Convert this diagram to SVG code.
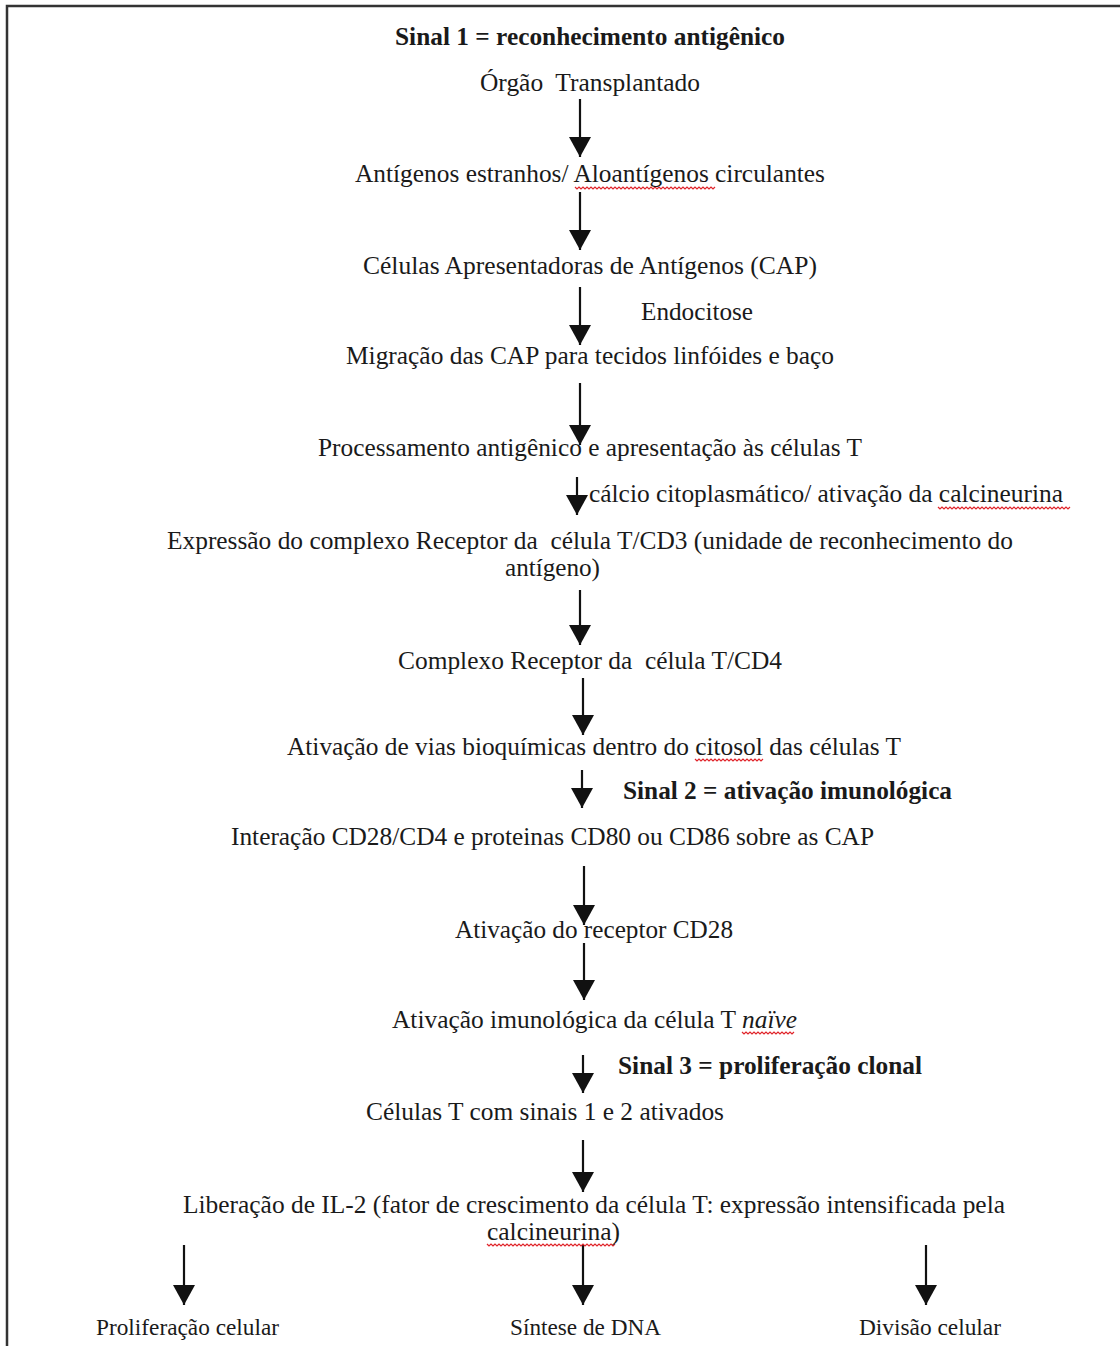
<svg xmlns="http://www.w3.org/2000/svg" width="1120" height="1346" viewBox="0 0 1120 1346">
<style>
.t{font-family:"Liberation Serif","Times New Roman",serif;font-size:26px;fill:#1a1a1a}
.b{font-weight:bold}
.i{font-style:italic}
.s{font-size:23px}
.ar{stroke:#111;stroke-width:2.2;fill:none}
.wv{stroke:#e0242a;stroke-width:1.2;fill:none}
</style>
<defs>
<marker id="ah" markerUnits="userSpaceOnUse" markerWidth="22" markerHeight="22" refX="20" refY="11" orient="auto">
<path d="M0,0 L20,11 L0,22 Z" fill="#111"/>
</marker>
</defs>
<rect x="0" y="0" width="1120" height="1346" fill="#fff"/>
<path d="M7,1346 V6 H1120" stroke="#333" stroke-width="2.5" fill="none"/>
<g id="connectors">
<line class="ar" x1="580" y1="99" x2="580" y2="157" marker-end="url(#ah)"/>
<line class="ar" x1="580" y1="192" x2="580" y2="250" marker-end="url(#ah)"/>
<line class="ar" x1="580" y1="287" x2="580" y2="345" marker-end="url(#ah)"/>
<line class="ar" x1="580" y1="383" x2="580" y2="445" marker-end="url(#ah)"/>
<line class="ar" x1="577" y1="477" x2="577" y2="515" marker-end="url(#ah)"/>
<line class="ar" x1="580" y1="590" x2="580" y2="645" marker-end="url(#ah)"/>
<line class="ar" x1="583" y1="678" x2="583" y2="735" marker-end="url(#ah)"/>
<line class="ar" x1="582" y1="770" x2="582" y2="808" marker-end="url(#ah)"/>
<line class="ar" x1="584" y1="866" x2="584" y2="925" marker-end="url(#ah)"/>
<line class="ar" x1="584" y1="943" x2="584" y2="1000" marker-end="url(#ah)"/>
<line class="ar" x1="583" y1="1055" x2="583" y2="1093" marker-end="url(#ah)"/>
<line class="ar" x1="583" y1="1140" x2="583" y2="1192" marker-end="url(#ah)"/>
<line class="ar" x1="184" y1="1245" x2="184" y2="1305" marker-end="url(#ah)"/>
<line class="ar" x1="583" y1="1245" x2="583" y2="1305" marker-end="url(#ah)"/>
<line class="ar" x1="926" y1="1245" x2="926" y2="1305" marker-end="url(#ah)"/>
</g>
<g id="wavy">
<path class="wv" d="M575,187 l2,2 l2,-2 l2,2 l2,-2 l2,2 l2,-2 l2,2 l2,-2 l2,2 l2,-2 l2,2 l2,-2 l2,2 l2,-2 l2,2 l2,-2 l2,2 l2,-2 l2,2 l2,-2 l2,2 l2,-2 l2,2 l2,-2 l2,2 l2,-2 l2,2 l2,-2 l2,2 l2,-2 l2,2 l2,-2 l2,2 l2,-2 l2,2 l2,-2 l2,2 l2,-2 l2,2 l2,-2 l2,2 l2,-2 l2,2 l2,-2 l2,2 l2,-2 l2,2 l2,-2 l2,2 l2,-2 l2,2 l2,-2 l2,2 l2,-2 l2,2 l2,-2 l2,2 l2,-2 l2,2 l2,-2 l2,2 l2,-2 l2,2 l2,-2 l2,2 l2,-2 l2,2 l2,-2 l2,2 l2,-2"/>
<path class="wv" d="M938,507 l2,2 l2,-2 l2,2 l2,-2 l2,2 l2,-2 l2,2 l2,-2 l2,2 l2,-2 l2,2 l2,-2 l2,2 l2,-2 l2,2 l2,-2 l2,2 l2,-2 l2,2 l2,-2 l2,2 l2,-2 l2,2 l2,-2 l2,2 l2,-2 l2,2 l2,-2 l2,2 l2,-2 l2,2 l2,-2 l2,2 l2,-2 l2,2 l2,-2 l2,2 l2,-2 l2,2 l2,-2 l2,2 l2,-2 l2,2 l2,-2 l2,2 l2,-2 l2,2 l2,-2 l2,2 l2,-2 l2,2 l2,-2 l2,2 l2,-2 l2,2 l2,-2 l2,2 l2,-2 l2,2 l2,-2 l2,2 l2,-2 l2,2 l2,-2 l2,2 l2,-2"/>
<path class="wv" d="M695,759 l2,2 l2,-2 l2,2 l2,-2 l2,2 l2,-2 l2,2 l2,-2 l2,2 l2,-2 l2,2 l2,-2 l2,2 l2,-2 l2,2 l2,-2 l2,2 l2,-2 l2,2 l2,-2 l2,2 l2,-2 l2,2 l2,-2 l2,2 l2,-2 l2,2 l2,-2 l2,2 l2,-2 l2,2 l2,-2 l2,2 l2,-2"/>
<path class="wv" d="M742,1032 l2,2 l2,-2 l2,2 l2,-2 l2,2 l2,-2 l2,2 l2,-2 l2,2 l2,-2 l2,2 l2,-2 l2,2 l2,-2 l2,2 l2,-2 l2,2 l2,-2 l2,2 l2,-2 l2,2 l2,-2 l2,2 l2,-2 l2,2 l2,-2"/>
<path class="wv" d="M487,1244 l2,2 l2,-2 l2,2 l2,-2 l2,2 l2,-2 l2,2 l2,-2 l2,2 l2,-2 l2,2 l2,-2 l2,2 l2,-2 l2,2 l2,-2 l2,2 l2,-2 l2,2 l2,-2 l2,2 l2,-2 l2,2 l2,-2 l2,2 l2,-2 l2,2 l2,-2 l2,2 l2,-2 l2,2 l2,-2 l2,2 l2,-2 l2,2 l2,-2 l2,2 l2,-2 l2,2 l2,-2 l2,2 l2,-2 l2,2 l2,-2 l2,2 l2,-2 l2,2 l2,-2 l2,2 l2,-2 l2,2 l2,-2 l2,2 l2,-2 l2,2 l2,-2 l2,2 l2,-2 l2,2 l2,-2 l2,2 l2,-2 l2,2 l2,-2"/>
</g>
<g id="n-sinal1"><text class="t b" x="395" y="45" textLength="390" lengthAdjust="spacingAndGlyphs">Sinal 1 = reconhecimento antigênico</text></g>
<g id="n-orgao"><text class="t" x="480" y="91" textLength="220" lengthAdjust="spacingAndGlyphs" xml:space="preserve">Órgão  Transplantado</text></g>
<g id="n-antigenos"><text class="t" x="355" y="182" textLength="470" lengthAdjust="spacingAndGlyphs">Antígenos estranhos/ Aloantígenos circulantes</text></g>
<g id="n-cap"><text class="t" x="363" y="274" textLength="454" lengthAdjust="spacingAndGlyphs">Células Apresentadoras de Antígenos (CAP)</text></g>
<g id="l-endocitose"><text class="t" x="641" y="320" textLength="112" lengthAdjust="spacingAndGlyphs">Endocitose</text></g>
<g id="n-migracao"><text class="t" x="346" y="364" textLength="488" lengthAdjust="spacingAndGlyphs">Migração das CAP para tecidos linfóides e baço</text></g>
<g id="n-processamento"><text class="t" x="318" y="456" textLength="544" lengthAdjust="spacingAndGlyphs">Processamento antigênico e apresentação às células T</text></g>
<g id="l-calcio"><text class="t" x="589" y="502" textLength="474" lengthAdjust="spacingAndGlyphs">cálcio citoplasmático/ ativação da calcineurina</text></g>
<g id="n-expressao">
<text class="t" x="167" y="549" textLength="846" lengthAdjust="spacingAndGlyphs" xml:space="preserve">Expressão do complexo Receptor da  célula T/CD3 (unidade de reconhecimento do</text>
<text class="t" x="505" y="576" textLength="95" lengthAdjust="spacingAndGlyphs">antígeno)</text>
</g>
<g id="n-cd4"><text class="t" x="398" y="669" textLength="384" lengthAdjust="spacingAndGlyphs" xml:space="preserve">Complexo Receptor da  célula T/CD4</text></g>
<g id="n-vias"><text class="t" x="287" y="755" textLength="614" lengthAdjust="spacingAndGlyphs">Ativação de vias bioquímicas dentro do citosol das células T</text></g>
<g id="l-sinal2"><text class="t b" x="623" y="799" textLength="329" lengthAdjust="spacingAndGlyphs">Sinal 2 = ativação imunológica</text></g>
<g id="n-interacao"><text class="t" x="231" y="845" textLength="643" lengthAdjust="spacingAndGlyphs">Interação CD28/CD4 e proteinas CD80 ou CD86 sobre as CAP</text></g>
<g id="n-cd28"><text class="t" x="455" y="938" textLength="278" lengthAdjust="spacingAndGlyphs">Ativação do receptor CD28</text></g>
<g id="n-naive">
<text class="t" x="392" y="1028" textLength="344" lengthAdjust="spacingAndGlyphs">Ativação imunológica da célula T</text>
<text class="t i" x="742" y="1028" textLength="55" lengthAdjust="spacingAndGlyphs">naïve</text>
</g>
<g id="l-sinal3"><text class="t b" x="618" y="1074" textLength="304" lengthAdjust="spacingAndGlyphs">Sinal 3 = proliferação clonal</text></g>
<g id="n-sinais"><text class="t" x="366" y="1120" textLength="358" lengthAdjust="spacingAndGlyphs">Células T com sinais 1 e 2 ativados</text></g>
<g id="n-il2">
<text class="t" x="183" y="1213" textLength="822" lengthAdjust="spacingAndGlyphs">Liberação de IL-2 (fator de crescimento da célula T: expressão intensificada pela</text>
<text class="t" x="487" y="1240" textLength="133" lengthAdjust="spacingAndGlyphs">calcineurina)</text>
</g>
<g id="n-proliferacao"><text class="t s" x="96" y="1335" textLength="183" lengthAdjust="spacingAndGlyphs">Proliferação celular</text></g>
<g id="n-sintese"><text class="t s" x="510" y="1335" textLength="151" lengthAdjust="spacingAndGlyphs">Síntese de DNA</text></g>
<g id="n-divisao"><text class="t s" x="859" y="1335" textLength="142" lengthAdjust="spacingAndGlyphs">Divisão celular</text></g>
</svg>
